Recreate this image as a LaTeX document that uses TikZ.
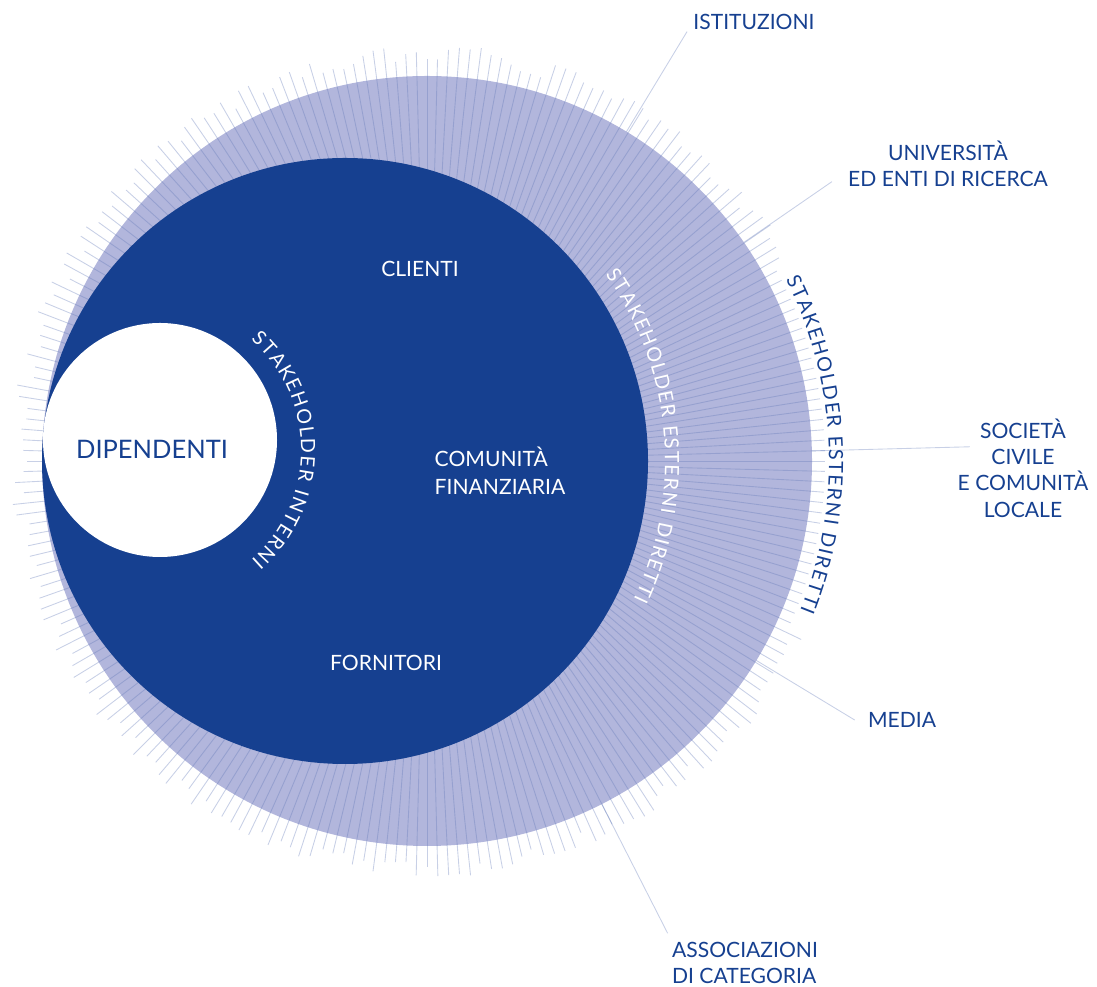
\documentclass[tikz,border=0pt]{standalone}
\usepackage{fontspec}
\setmainfont{Lato}
\usetikzlibrary{decorations.text}
\usetikzlibrary{calc}
\definecolor{blunotte}{RGB}{22,64,144}
\definecolor{lavanda}{RGB}{178,182,220}
\definecolor{raggio}{RGB}{98,121,184}

\begin{document}
\begin{tikzpicture}[x=0.02cm,y=0.02cm,
  raggio/.style={draw=raggio,draw opacity=0.35,line width=0.5pt},
  etichetta/.style={font=\fontsize{12}{15}\selectfont,text=blunotte,inner sep=0pt,align=center},
  interno/.style={font=\fontsize{12}{16}\selectfont,text=white,inner sep=0pt},
  arco/.style={decorate,decoration={text effects along path,text align=center,text={#1},
    text effects/.cd,text along path,
    characters={font=\fontsize{11.2}{13}\selectfont},
    character widths={inner xsep=0.45pt,font=\fontsize{11.2}{13}\selectfont}}}]
\useasboundingbox (0,0) rectangle (1097,986);
\coordinate (O) at (427,525);
\coordinate (D) at (345,525);
\coordinate (W) at (160,546);
\coordinate (A) at (155,536);

\fill[lavanda] (O) circle (385);
\pgfmathsetseed{12}
\foreach \a in {0,1.5,...,358.5}{
  \pgfmathsetmacro\rr{(\a<30 || \a>335) ? 398 : 400+17*rnd}
  \draw[raggio] (O) -- ($(O)+(\a:\rr)$);
}
\foreach \n/\a/\r in {ist/58.8/502,uni/34.6/492,soc/1.5/543,med/-31.2/500,ass/-63/530}{
  \coordinate (\n-q) at ($(O)+(\a:385)$);
  \coordinate (\n-p) at ($(O)+(\a:\r)$);
  \draw[raggio] (\n-q) -- (\n-p);
}

\fill[blunotte] (D) circle (303);
\fill[white] (W) circle (117);

\node[font=\fontsize{14.5}{17}\selectfont,text=blunotte,inner sep=0pt] (dip) at (152,537) {DIPENDENTI};
\node[interno] (cli) at (420,717) {CLIENTI};
\node[interno,align=left] (com) at (500,515) {COMUNITÀ\\FINANZIARIA};
\node[interno] (forn) at (386,323) {FORNITORI};

\path[arco={STAKEHOLDER INTERNI},text=white]
  ($(A)+(60:146)$) arc[start angle=60,end angle=-60,radius=146];
\path[arco={STAKEHOLDER ESTERNI DIRETTI},text=white]
  ($(D)+(50:320)$) arc[start angle=50,end angle=-40,radius=320];
\path[arco={STAKEHOLDER ESTERNI DIRETTI},text=blunotte]
  ($(O)+(40:402)$) arc[start angle=40,end angle=-35,radius=402];

\node[etichetta] (ist) at (754,964) {ISTITUZIONI};
\node[etichetta] (uni) at (948,822) {UNIVERSITÀ\\ED ENTI DI RICERCA};
\node[etichetta] (soc) at (1023,518) {SOCIETÀ\\CIVILE\\E COMUNITÀ\\LOCALE};
\node[etichetta] (med) at (902,266) {MEDIA};
\node[etichetta,align=left] (ass) at (745,23) {ASSOCIAZIONI\\DI CATEGORIA};

\end{tikzpicture}
\end{document}
